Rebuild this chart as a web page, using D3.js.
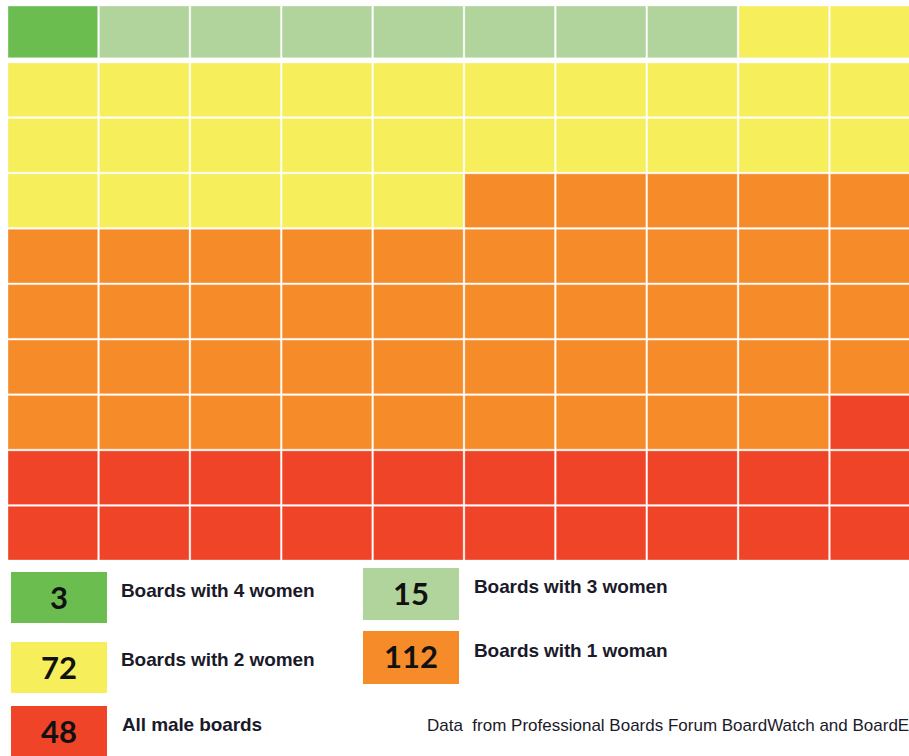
<!DOCTYPE html>
<html>
<head>
<meta charset="utf-8">
<script src="https://cdn.jsdelivr.net/npm/d3@7"></script>
<style>
  html, body { margin: 0; padding: 0; background: #ffffff; overflow: hidden; }
  svg { display: block; }
  .source { white-space: pre; }
</style>
</head>
<body>
<div id="chart"></div>
<script>
// Board composition categories, most women first
const categories = ["Boards with 4 women", "Boards with 3 women", "Boards with 2 women", "Boards with 1 woman", "All male boards"];
// Number of boards in each category (shown in the legend boxes)
const boardCounts = [3, 15, 72, 112, 48];
// Squares given to each category in the 10 x 10 waffle
const cellCounts = [1, 7, 27, 44, 21];
const colors = ["#6bbd50", "#b1d49d", "#f6ee5b", "#f68b2a", "#ef4427"];
const sourceNote = "Data  from Professional Boards Forum BoardWatch and BoardEx";

const W = 909, H = 756;
const nCols = 10, nRows = 10;

const svg = d3.select("#chart").append("svg")
  .attr("width", W).attr("height", H);

// Expand the category counts into one record per square
const cells = [];
cellCounts.forEach((n, k) => {
  for (let j = 0; j < n; j++) cells.push({ cat: k });
});
cells.forEach((d, i) => { d.row = Math.floor(i / nCols); d.col = i % nCols; });

const x = d3.scaleBand().domain(d3.range(nCols)).range([8, 920]).paddingInner(0.018);
// The first row sits slightly apart from the rest of the grid
const yRest = d3.scaleBand().domain(d3.range(1, nRows)).range([63, 560]).paddingInner(0.03);
const firstRowY = 6, firstRowH = yRest.bandwidth() - 2;
const cellY = r => r === 0 ? firstRowY : yRest(r);
const cellH = r => r === 0 ? firstRowH : yRest.bandwidth();

svg.append("g").selectAll("rect")
  .data(cells)
  .join("rect")
  .attr("x", d => x(d.col))
  .attr("y", d => cellY(d.row))
  .attr("width", x.bandwidth())
  .attr("height", d => cellH(d.row))
  .attr("fill", d => colors[d.cat])
  .attr("stroke", "#ffffff")
  .attr("stroke-opacity", 0.35)
  .attr("stroke-width", 1);

// Legend: boxes with counts and category labels, two columns
const legendSlots = [
  { box: [11, 572, 96, 51], label: [121, 597] },   // 4 women
  { box: [363, 568, 96, 52], label: [474, 593] },  // 3 women
  { box: [11, 642, 96, 51], label: [121, 666] },   // 2 women
  { box: [363, 631, 96, 53], label: [474, 657] },  // 1 woman
  { box: [11, 706, 96, 54], label: [122, 731] }    // all male
];

const legend = svg.append("g").selectAll("g")
  .data(categories.map((c, i) => ({ name: c, count: boardCounts[i], color: colors[i], slot: legendSlots[i] })))
  .join("g");

legend.append("rect")
  .attr("x", d => d.slot.box[0])
  .attr("y", d => d.slot.box[1])
  .attr("width", d => d.slot.box[2])
  .attr("height", d => d.slot.box[3])
  .attr("fill", d => d.color);

legend.append("text")
  .attr("x", d => d.slot.box[0] + d.slot.box[2] / 2)
  .attr("y", d => d.slot.box[1] + Math.min(d.slot.box[3], 51) / 2 + 11)
  .attr("text-anchor", "middle")
  .attr("font-family", "Lato, 'Open Sans', sans-serif")
  .attr("font-weight", 700)
  .attr("font-size", 31)
  .attr("fill", "#111111")
  .text(d => d.count);

legend.append("text")
  .attr("x", d => d.slot.label[0])
  .attr("y", d => d.slot.label[1])
  .attr("font-family", "'Liberation Sans', Arial, sans-serif")
  .attr("font-weight", 700)
  .attr("font-size", 19)
  .attr("letter-spacing", -0.1)
  .attr("fill", "#1a1a2a")
  .text(d => d.name);

svg.append("text")
  .attr("class", "source")
  .attr("x", 427)
  .attr("y", 731)
  .attr("font-family", "'Liberation Sans', Arial, sans-serif")
  .attr("font-size", 17)
  .attr("fill", "#1a1a2a")
  .text(sourceNote);
</script>
</body>
</html>
